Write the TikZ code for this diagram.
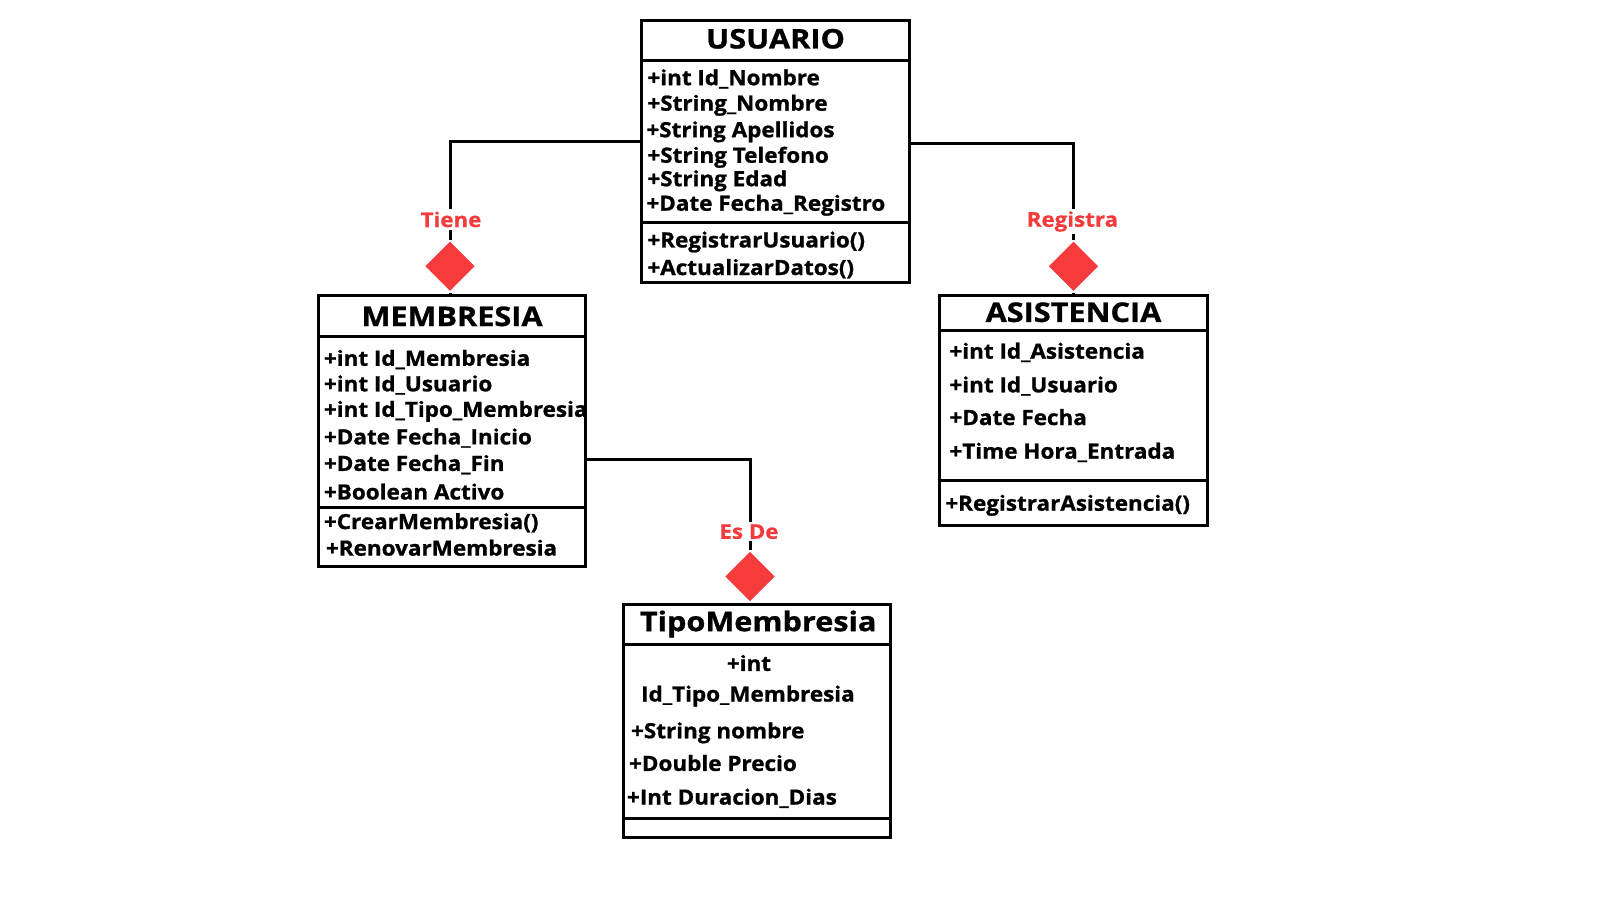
\documentclass[tikz,border=0pt]{standalone}
\usepackage{fontspec}
\setmainfont{Open Sans}
\newfontfamily\umlA[FakeStretch=1.07,BoldFeatures={FakeBold=1.0}]{Open Sans}
\newfontfamily\umlT[FakeStretch=1.135,BoldFeatures={FakeBold=1.0}]{Open Sans}
\newfontfamily\umlL[FakeStretch=1.1,BoldFeatures={FakeBold=0.6}]{Open Sans}
\usetikzlibrary{shapes.geometric,fit}
\definecolor{relred}{HTML}{F53B3B}
\begin{document}
\begin{tikzpicture}[x=1.0204pt,y=-1.0204pt,line width=3pt,
 box/.style={draw,line width=3pt,inner sep=0pt},
 attr/.style={anchor=base west,inner sep=0pt,font=\umlA\fontsize{21}{24}\selectfont\bfseries},
 attrc/.style={anchor=base,inner sep=0pt,font=\umlA\fontsize{21}{24}\selectfont\bfseries},
 ttl/.style={anchor=base,inner sep=0pt,font=\umlT\fontsize{27}{30}\selectfont\bfseries},
 rel/.style={text=relred,font=\umlL\fontsize{20.3}{24}\selectfont\bfseries,fill=white,inner sep=2.5pt},
 dia/.style={diamond,fill=relred,minimum width=50pt,minimum height=50pt,inner sep=0pt}]
\fill[white] (0,0) rectangle (1568,882);
\useasboundingbox (0,0) rectangle (1568,882);

% USUARIO
\node[box,fit={(629,20) (891,277)}] (usuario) {};
\draw (629,59) -- (891,59);
\draw (629,218) -- (891,218);
\node[ttl] (tU) at (760,47.5) {USUARIO};
\node[attr] (u1) at (633,83.5) {+int Id\_Nombre};
\node[attr] (u2) at (633,108.5) {+String\_Nombre};
\node[attr] (u3) at (632,134.5) {+String Apellidos};
\node[attr] (u4) at (633,159.5) {+String Telefono};
\node[attr] (u5) at (633,182.5) {+String Edad};
\node[attr] (u6) at (632,206.5) {+Date Fecha\_Registro};
\node[attr] (u7) at (633,242.5) {+RegistrarUsuario()};
\node[attr] (u8) at (633,269.5) {+ActualizarDatos()};

% MEMBRESIA
\node[box,fit={(312,290) (574,555)}] (memb) {};
\draw (312,330) -- (574,330);
\draw (312,497) -- (574,497);
\node[ttl] (tM) at (443,319.5) {MEMBRESIA};
\node[attr] (m1) at (316,358.5) {+int Id\_Membresia};
\node[attr] (m2) at (316,383.5) {+int Id\_Usuario};
\node[attr] (m3) at (316,408.5) {+int Id\_Tipo\_Membresia};
\node[attr] (m4) at (316,435.5) {+Date Fecha\_Inicio};
\node[attr] (m5) at (316,461.5) {+Date Fecha\_Fin};
\node[attr] (m6) at (316,489.5) {+Boolean Activo};
\node[attr] (m7) at (316,518.5) {+CrearMembresia()};
\node[attr] (m8) at (318,544.5) {+RenovarMembresia};

% ASISTENCIA
\node[box,fit={(921,290) (1183,515)}] (asis) {};
\draw (921,324) -- (1183,324);
\draw (921,471) -- (1183,471);
\node[ttl] (tA) at (1052,315.5) {ASISTENCIA};
\node[attr] (a1) at (929,351.5) {+int Id\_Asistencia};
\node[attr] (a2) at (929,384.5) {+int Id\_Usuario};
\node[attr] (a3) at (929,416.5) {+Date Fecha};
\node[attr] (a4) at (929,449.5) {+Time Hora\_Entrada};
\node[attr] (a5) at (925,500.5) {+RegistrarAsistencia()};

% TipoMembresia
\node[box,fit={(611,592) (873,821)}] (tipo) {};
\draw (611,632) -- (873,632);
\draw (611,802) -- (873,802);
\node[ttl] (tT) at (743,618.5) {TipoMembresia};
\node[attrc] (t1) at (734,657.5) {+int};
\node[attrc] (t2) at (733,687.5) {Id\_Tipo\_Membresia};
\node[attr] (t3) at (617,723.5) {+String nombre};
\node[attr] (t4) at (615,755.5) {+Double Precio};
\node[attr] (t5) at (613,788.5) {+Int Duracion\_Dias};

% relations
\coordinate (uL) at (629,139);
\coordinate (uR) at (891,141);
\coordinate (mR) at (574,450);
\node[dia] (dTiene) at (441,261) {};
\node[dia] (dReg) at (1052,261) {};
\node[dia] (dEs) at (735,565) {};
\draw (uL) -| (dTiene.north);
\draw (uR) -| (dReg.north);
\draw (mR) -| (dEs.north);
\draw (dTiene.south) -- (dTiene.south |- memb.north);
\draw (dReg.south) -- (dReg.south |- asis.north);
\draw (dEs.south) -- (dEs.south |- tipo.north);
\node[dia] at (dTiene) {};
\node[dia] at (dReg) {};
\node[dia] at (dEs) {};
\node[rel] (lTiene) at (442,215) {Tiene};
\node[rel] (lReg) at (1051,217) {Registra};
\node[rel] (lEs) at (734,521) {Es De};
\end{tikzpicture}
\end{document}
